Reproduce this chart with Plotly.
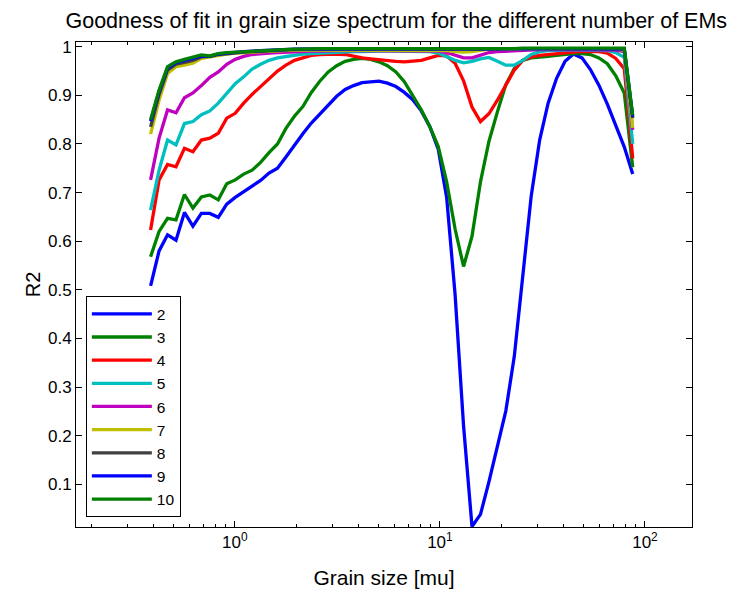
import plotly.graph_objects as go

grain_size = [0.388, 0.4268, 0.4694, 0.5161, 0.5675, 0.6241, 0.6863, 0.7547, 0.8299, 0.9125,
              1.0035, 1.1035, 1.2134, 1.3343, 1.4672, 1.6134, 1.7742, 1.951, 2.1452, 2.3594,
              2.5942, 2.853, 3.1369, 3.4495, 3.7931, 4.1716, 4.5867, 5.0444, 5.5463, 6.0997,
              6.7068, 7.376, 8.1096, 8.9188, 9.8062, 10.785, 11.858, 13.041, 14.338, 15.769,
              17.338, 19.068, 20.965, 23.057, 25.351, 27.881, 30.654, 33.713, 37.068, 40.766,
              44.822, 49.295, 54.2, 59.608, 65.537, 72.078, 79.25, 87.159]

r2_em2 = [0.508, 0.580, 0.613, 0.602, 0.659, 0.631, 0.657, 0.657, 0.649, 0.676,
          0.690, 0.702, 0.712, 0.725, 0.740, 0.750, 0.773, 0.798, 0.821, 0.843,
          0.862, 0.880, 0.898, 0.912, 0.920, 0.926, 0.928, 0.929, 0.925, 0.918,
          0.906, 0.891, 0.868, 0.836, 0.790, 0.690, 0.490, 0.220, 0.013, 0.038,
          0.105, 0.176, 0.251, 0.363, 0.533, 0.693, 0.808, 0.884, 0.935, 0.970,
          0.985, 0.977, 0.953, 0.921, 0.882, 0.840, 0.794, 0.738]

r2_em3 = [0.568, 0.620, 0.647, 0.644, 0.696, 0.668, 0.691, 0.695, 0.685, 0.718,
          0.726, 0.738, 0.746, 0.762, 0.782, 0.800, 0.832, 0.857, 0.877, 0.906,
          0.929, 0.948, 0.961, 0.970, 0.974, 0.976, 0.974, 0.969, 0.961, 0.948,
          0.928, 0.900, 0.870, 0.836, 0.795, 0.722, 0.625, 0.548, 0.610, 0.722,
          0.805, 0.866, 0.922, 0.955, 0.972, 0.977, 0.978, 0.980, 0.982, 0.984,
          0.986, 0.986, 0.984, 0.977, 0.965, 0.940, 0.905, 0.752]

r2_em4 = [0.623, 0.726, 0.758, 0.753, 0.791, 0.784, 0.808, 0.812, 0.822, 0.853,
          0.863, 0.884, 0.902, 0.918, 0.935, 0.950, 0.962, 0.972, 0.977, 0.982,
          0.984, 0.985, 0.985, 0.984, 0.980, 0.977, 0.975, 0.973, 0.971, 0.970,
          0.969, 0.970, 0.972, 0.977, 0.982, 0.981, 0.966, 0.930, 0.876, 0.846,
          0.862, 0.890, 0.922, 0.952, 0.972, 0.979, 0.982, 0.984, 0.986, 0.988,
          0.989, 0.990, 0.990, 0.990, 0.987, 0.976, 0.955, 0.770]

r2_em5 = [0.664, 0.746, 0.808, 0.798, 0.842, 0.846, 0.860, 0.868, 0.884, 0.904,
          0.924, 0.938, 0.954, 0.964, 0.972, 0.977, 0.980, 0.983, 0.985, 0.986,
          0.987, 0.988, 0.989, 0.990, 0.990, 0.990, 0.991, 0.991, 0.991, 0.991,
          0.991, 0.991, 0.991, 0.990, 0.987, 0.980, 0.972, 0.967, 0.970, 0.975,
          0.978, 0.970, 0.962, 0.962, 0.972, 0.984, 0.990, 0.992, 0.993, 0.993,
          0.993, 0.993, 0.993, 0.993, 0.992, 0.988, 0.978, 0.800]

r2_em6 = [0.726, 0.812, 0.870, 0.864, 0.895, 0.905, 0.920, 0.937, 0.948, 0.964,
          0.974, 0.980, 0.984, 0.986, 0.987, 0.988, 0.989, 0.990, 0.990, 0.991,
          0.991, 0.992, 0.992, 0.992, 0.992, 0.992, 0.992, 0.992, 0.992, 0.992,
          0.992, 0.992, 0.992, 0.992, 0.991, 0.988, 0.982, 0.977, 0.977, 0.983,
          0.988, 0.990, 0.991, 0.992, 0.993, 0.994, 0.994, 0.994, 0.994, 0.994,
          0.994, 0.994, 0.994, 0.994, 0.994, 0.993, 0.990, 0.829]

r2_em7 = [0.820, 0.890, 0.945, 0.959, 0.962, 0.966, 0.976, 0.979, 0.983, 0.985,
          0.987, 0.988, 0.989, 0.990, 0.991, 0.992, 0.993, 0.993, 0.993, 0.993,
          0.993, 0.993, 0.993, 0.993, 0.993, 0.993, 0.993, 0.993, 0.993, 0.993,
          0.993, 0.993, 0.993, 0.993, 0.993, 0.992, 0.990, 0.989, 0.990, 0.992,
          0.995, 0.995, 0.995, 0.995, 0.995, 0.995, 0.995, 0.995, 0.995, 0.995,
          0.995, 0.995, 0.995, 0.995, 0.995, 0.995, 0.993, 0.833]

r2_em8 = [0.835, 0.902, 0.952, 0.964, 0.968, 0.972, 0.979, 0.980, 0.984, 0.986,
          0.988, 0.989, 0.990, 0.991, 0.992, 0.993, 0.994, 0.994, 0.995, 0.995,
          0.995, 0.995, 0.995, 0.995, 0.995, 0.995, 0.995, 0.995, 0.995, 0.995,
          0.995, 0.995, 0.995, 0.995, 0.995, 0.995, 0.994, 0.994, 0.994, 0.995,
          0.995, 0.995, 0.996, 0.996, 0.996, 0.996, 0.996, 0.996, 0.996, 0.996,
          0.996, 0.996, 0.996, 0.996, 0.996, 0.996, 0.995, 0.853]

r2_em9 = [0.847, 0.908, 0.957, 0.967, 0.972, 0.976, 0.981, 0.980, 0.985, 0.987,
          0.989, 0.990, 0.991, 0.992, 0.993, 0.994, 0.994, 0.995, 0.995, 0.995,
          0.995, 0.996, 0.996, 0.996, 0.996, 0.996, 0.996, 0.996, 0.996, 0.996,
          0.996, 0.996, 0.996, 0.996, 0.996, 0.996, 0.995, 0.995, 0.995, 0.995,
          0.996, 0.996, 0.996, 0.996, 0.996, 0.996, 0.996, 0.996, 0.996, 0.996,
          0.996, 0.996, 0.996, 0.996, 0.996, 0.996, 0.996, 0.856]

r2_em10 = [0.850, 0.911, 0.959, 0.969, 0.974, 0.978, 0.983, 0.981, 0.986, 0.988,
           0.989, 0.990, 0.991, 0.992, 0.993, 0.994, 0.995, 0.995, 0.995, 0.996,
           0.996, 0.996, 0.996, 0.996, 0.996, 0.996, 0.996, 0.996, 0.996, 0.996,
           0.996, 0.996, 0.996, 0.996, 0.996, 0.996, 0.996, 0.995, 0.995, 0.995,
           0.996, 0.996, 0.996, 0.996, 0.997, 0.997, 0.997, 0.997, 0.997, 0.997,
           0.997, 0.997, 0.997, 0.997, 0.997, 0.997, 0.997, 0.859]

series_names = ["2", "3", "4", "5", "6", "7", "8", "9", "10"]
series_values = [r2_em2, r2_em3, r2_em4, r2_em5, r2_em6, r2_em7, r2_em8, r2_em9, r2_em10]
series_colors = ["#0000ff", "#008000", "#ff0000", "#00bfbf", "#bf00bf",
                 "#bfbf00", "#404040", "#0000ff", "#008000"]

x_tick_vals = [1, 10, 100]
x_tick_text = ["10<sup>0</sup>", "10<sup>1</sup>", "10<sup>2</sup>"]
x_minor_vals = [0.2, 0.3, 0.4, 0.5, 0.6, 0.7, 0.8, 0.9,
                2, 3, 4, 5, 6, 7, 8, 9,
                20, 30, 40, 50, 60, 70, 80, 90]
y_tick_vals = [0.1, 0.2, 0.3, 0.4, 0.5, 0.6, 0.7, 0.8, 0.9, 1.0]
y_tick_text = ["0.1", "0.2", "0.3", "0.4", "0.5", "0.6", "0.7", "0.8", "0.9", "1"]

FONT = "Liberation Sans, Arial, Helvetica, sans-serif"

fig = go.Figure()
for name, vals, col in zip(series_names, series_values, series_colors):
    fig.add_trace(go.Scatter(x=grain_size, y=vals, mode="lines", name=name,
                             line=dict(color=col, width=3.3)))

fig.update_layout(
    width=736, height=590,
    margin=dict(l=76, r=44, t=42, b=63),
    paper_bgcolor="white", plot_bgcolor="white",
    font=dict(family=FONT, size=17, color="black"),
    title=dict(text="Goodness of fit in grain size spectrum for the different number of EMs",
               x=0.52, xref="paper", xanchor="center", y=0.978, yanchor="top",
               font=dict(size=21.5, color="black")),
    showlegend=True,
    legend=dict(x=0.016, y=0.02, xanchor="left", yanchor="bottom",
                bgcolor="white", bordercolor="black", borderwidth=1,
                font=dict(size=15.5), itemwidth=60, tracegroupgap=0),
)
fig.update_xaxes(
    type="log", range=[-0.775, 2.2295], automargin=False,
    tickvals=x_tick_vals, ticktext=x_tick_text,
    ticks="inside", ticklen=6, tickcolor="black",
    minor=dict(tickvals=x_minor_vals, ticks="inside", ticklen=3,
               tickcolor="black", showgrid=False),
    showline=True, linecolor="black", linewidth=1, mirror="ticks",
    showgrid=False, zeroline=False,
    title=dict(text="Grain size [mu]", font=dict(size=21), standoff=18),
    tickfont=dict(size=17),
)
fig.update_yaxes(
    range=[0.012, 1.0097], automargin=False,
    tickvals=y_tick_vals, ticktext=y_tick_text,
    ticks="inside", ticklen=6, tickcolor="black",
    showline=True, linecolor="black", linewidth=1, mirror="ticks",
    showgrid=False, zeroline=False,
    title=dict(text="R2", font=dict(size=20), standoff=1),
    tickfont=dict(size=17),
)

fig.write_html("out.html")
